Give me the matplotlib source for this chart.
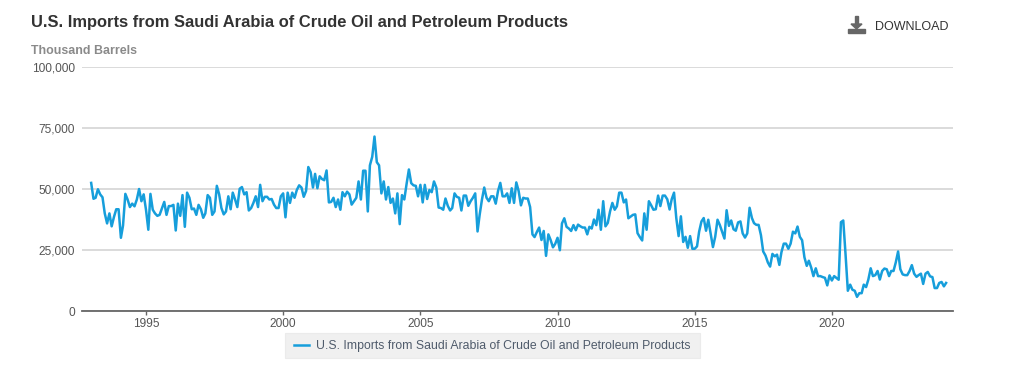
import matplotlib
matplotlib.use("Agg")
import matplotlib.pyplot as plt
import matplotlib.dates as mdates
from matplotlib.patches import Polygon, Rectangle
import numpy as np
import pandas as pd

plt.rcParams['font.family'] = ['Liberation Sans', 'DejaVu Sans']

TITLE = "U.S. Imports from Saudi Arabia of Crude Oil and Petroleum Products"
UNIT = "Thousand Barrels"

# thousand barrels per month
y1993 = [52.5, 46, 46.4, 49.9, 47.8, 46.6, 40, 35.9, 40, 34.7, 38.6, 41.7]
y1994 = [41.7, 30, 35, 48, 45.7, 42.6, 44, 42.9, 45.7, 50, 45, 47.8]
y1995 = [41.5, 33.3, 48, 41.5, 40, 39, 39.4, 42, 44.7, 39.4, 43, 43]
y1996 = [43.5, 33, 44, 39, 47.5, 34.5, 48.5, 46.4, 41.7, 42, 39.4, 43.5]
y1997 = [41.7, 38.2, 40, 47.5, 46.4, 39.4, 40.8, 51.3, 47.8, 42.2, 39.6, 40.8]
y1998 = [47, 41.7, 48.5, 45.7, 42.6, 50.1, 50.8, 47.8, 48.7, 41.2, 42.2, 44.3]
y1999 = [47, 42.6, 51.7, 45, 46.8, 46.8, 45.7, 45.9, 43.6, 42.2, 42.2, 47]
y2000 = [48.2, 38.4, 48.5, 44.3, 48.5, 46.4, 49.6, 51.5, 50.6, 46.8, 49.2, 59]
y2001 = [56.9, 50.6, 56.2, 50.3, 55.2, 54.1, 53.6, 57.6, 44.5, 44.7, 46.4, 42.6]
y2002 = [45.7, 41.5, 48.7, 47, 48.9, 47.8, 43.6, 45, 46.4, 53.1, 45.7, 57.5]
y2003 = [57.5, 40.8, 59.7, 63.2, 71.5, 61, 59.7, 48.2, 53.1, 45.7, 50.8, 44.3]
y2004 = [46.1, 40, 48.2, 35.6, 47.5, 45.7, 52, 58, 52.4, 51.5, 51.3, 47]
y2005 = [51.7, 44.5, 51.7, 45.9, 49.6, 48.7, 53.1, 50.6, 42.4, 42.2, 41.5, 46.1]
y2006 = [43.1, 41.2, 42.2, 48.2, 46.8, 46.4, 41.2, 47.3, 47.3, 43.1, 45, 46.4]
y2007 = [48.2, 32.6, 39.4, 45.7, 50.6, 46.4, 45, 47, 47, 44, 49.2, 52.5]
y2008 = [47, 47, 48.2, 44.3, 50.3, 44.3, 52.7, 49.2, 43.3, 46.4, 46.1, 46.1]
y2009 = [42.6, 31.4, 30.3, 32.4, 34.2, 29.1, 32.8, 22.6, 31.4, 29.1, 26.1, 27.5]
y2010 = [30, 24.9, 35.9, 38, 34.5, 33.8, 32.8, 35.2, 33.1, 35.4, 34.7, 34.2]
y2011 = [34.2, 31.4, 34.5, 33.8, 37.5, 35.2, 41.5, 33.3, 45, 34.7, 36.1, 40.8]
y2012 = [44.3, 41.5, 42.9, 48.5, 48.5, 44.5, 45.7, 38, 38.7, 39.4, 39.6, 31.9]
y2013 = [30.3, 28.9, 40, 33.3, 45, 43.3, 41.5, 41.7, 47.3, 43, 47.3, 47.3]
y2014 = [45.8, 41.6, 45.8, 48.5, 38.1, 30.7, 38.8, 28.3, 30.4, 25.9, 30.7, 25.5]
y2015 = [25.5, 26.5, 32.5, 36.7, 38.1, 32.9, 37.4, 31.8, 26.2, 30.4, 37.4, 35.3]
y2016 = [32.5, 29.7, 41.3, 34.9, 37.1, 33.5, 32.9, 36.3, 36.7, 31.8, 30.1, 31.8]
y2017 = [42.3, 38.1, 36, 35.3, 35.3, 31.1, 24.4, 22.7, 19.9, 18.2, 23.4, 22.4]
y2018 = [23.1, 18.9, 24.1, 27.6, 27.6, 25.5, 27.6, 32.5, 31.8, 34.6, 30.4, 29]
y2019 = [22, 18.5, 20.6, 17.8, 14.3, 17.5, 14.3, 14.3, 13.9, 13.6, 10.5, 14.6]
y2020 = [12.5, 14.3, 13.6, 12.8, 36.4, 37.1, 23.4, 8.3, 10.8, 8.7, 8.3, 5.8]
y2021 = [7.3, 7.3, 10.8, 9.8, 12.9, 17.5, 14.3, 14.7, 16.4, 12.9, 16.4, 17.4]
y2022 = [17.1, 14.3, 16.4, 16.4, 19.9, 24.4, 17.1, 15, 14.7, 14.7, 16.4, 18.8]
y2023 = [15.3, 14, 14.7, 15.3, 11.1, 15.3, 16, 14.2, 13.9, 9.4, 9.4, 11.5]
y2024 = [11.9, 10.1, 11.5]

imports = (y1993 + y1994 + y1995 + y1996 + y1997 + y1998 + y1999 + y2000
           + y2001 + y2002 + y2003 + y2004 + y2005 + y2006 + y2007 + y2008
           + y2009 + y2010 + y2011 + y2012 + y2013 + y2014 + y2015 + y2016
           + y2017 + y2018 + y2019 + y2020 + y2021 + y2022 + y2023 + y2024)
imports = np.array(imports) * 1000
dates = pd.date_range("1993-01-01", periods=len(imports), freq="MS")

W, H = 1024, 368
fig = plt.figure(figsize=(W / 100, H / 100), dpi=100)
ax = fig.add_axes([82 / W, 1 - 311 / H, (953 - 82) / W, (311 - 67) / H])

line, = ax.plot(dates, imports, color="#169edb", lw=1.8, solid_joinstyle="round",
                label=TITLE, clip_on=False)
ax.set_ylim(0, 100000)
ax.set_xlim(pd.Timestamp("1992-09-01"), pd.Timestamp("2024-06-01"))
ax.set_yticks([0, 25000, 50000, 75000, 100000])
ax.yaxis.set_major_formatter(lambda v, pos: f"{int(v):,}")
ax.xaxis.set_major_locator(mdates.YearLocator(5))
ax.xaxis.set_major_formatter(mdates.DateFormatter("%Y"))
ax.grid(axis="y", color="#d4d4d4", lw=1.2)
ax.set_axisbelow(True)
for s in ["top", "left", "right"]:
    ax.spines[s].set_visible(False)
ax.spines["bottom"].set_color("#666666")
ax.spines["bottom"].set_linewidth(1.3)
ax.tick_params(axis="y", length=0, pad=5, labelsize=8.6, labelcolor="#555555")
ax.tick_params(axis="x", length=3, width=1, color="#666666", pad=2,
               labelsize=8.6, labelcolor="#555555")
for lab in ax.get_yticklabels():
    lab.set_y(lab.get_position()[1])

fig.text(31 / W, 1 - 22.5 / H, TITLE, fontsize=11.93, fontweight="bold", color="#333333", va="center")
fig.text(31 / W, 1 - 50.5 / H, UNIT, fontsize=8.9, fontweight="bold", color="#8a8a8a", va="center")
fig.text(875 / W, 1 - 27 / H, "DOWNLOAD", fontsize=9, color="#333333", va="center")

# download icon
fig.add_artist(Rectangle((848 / W, 1 - 33 / H), 17 / W, 4 / H, color="#666666", transform=fig.transFigure))
fig.add_artist(Rectangle((855 / W, 1 - 24 / H), 3 / W, 8 / H, color="#666666", transform=fig.transFigure))
fig.add_artist(Polygon([(851 / W, 1 - 24 / H), (862 / W, 1 - 24 / H), (856.5 / W, 1 - 29 / H)],
                       color="#666666", transform=fig.transFigure))

# legend box drawn separately, its height does not follow the legend padding
fig.add_artist(Rectangle((285 / W, 1 - 358 / H), 415 / W, 25 / H, facecolor="#f0f0f0",
                         edgecolor="#ebebeb", lw=0.8, transform=fig.transFigure))
leg = fig.legend(handles=[line], loc="center left", bbox_to_anchor=(294 / W, 1 - 346.5 / H),
                 frameon=False, fontsize=8.87, labelcolor="#4f5b6b", handlelength=1.25,
                 handletextpad=0.55, borderpad=0, borderaxespad=0)

fig.savefig("out.png", dpi=100)
